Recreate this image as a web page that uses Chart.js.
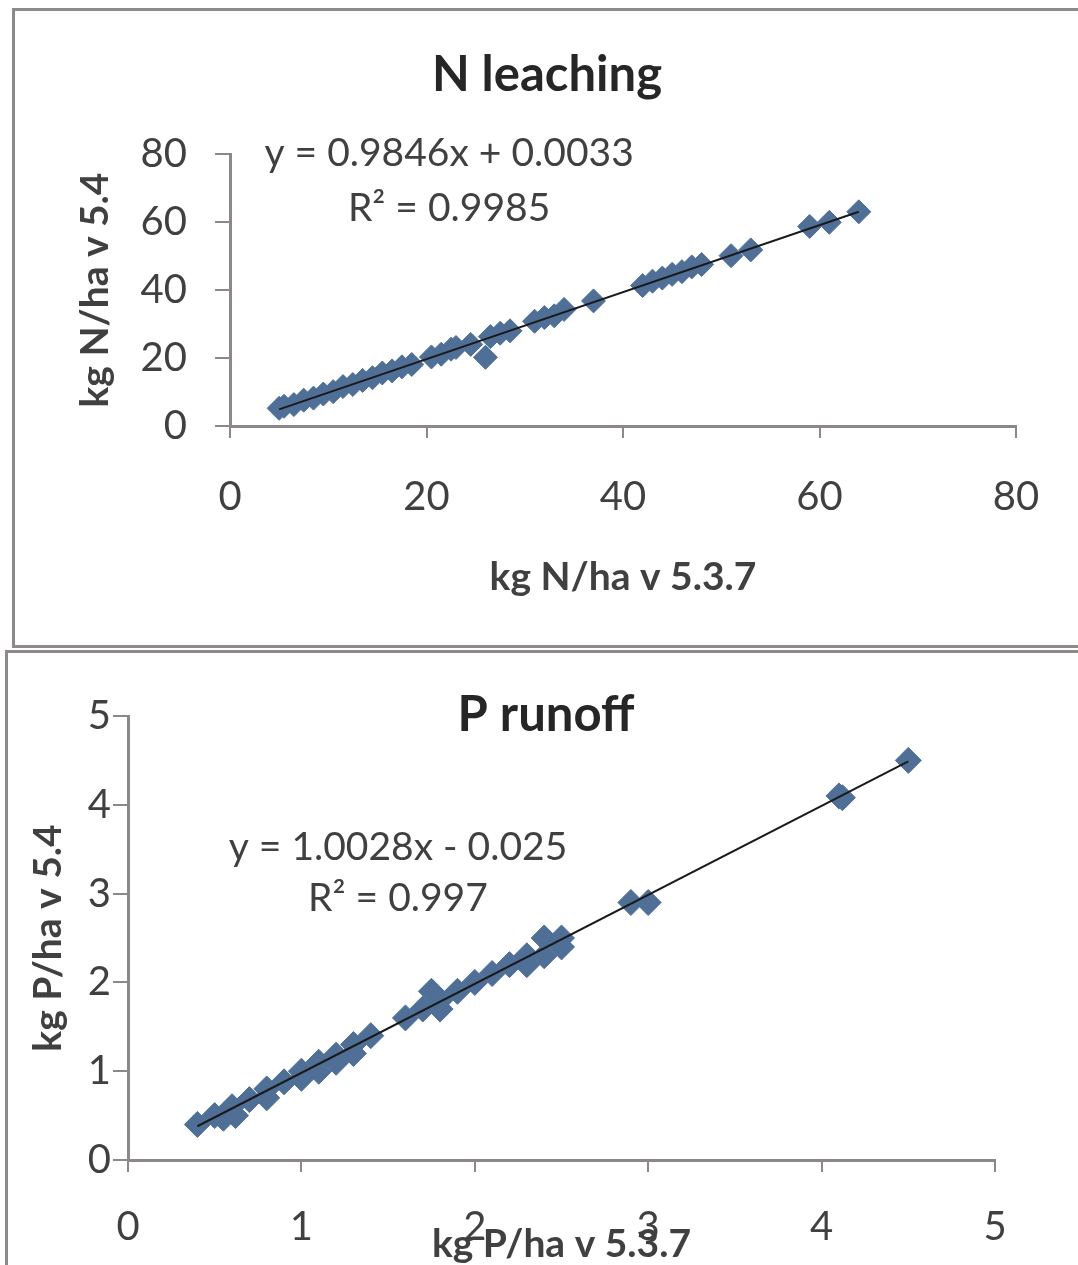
<!DOCTYPE html>
<html>
<head>
<meta charset="utf-8">
<script src="https://cdn.jsdelivr.net/npm/chart.js@4.4.1/dist/chart.umd.min.js"></script>
<style>
body{margin:0;width:1078px;height:1265px;overflow:hidden;position:relative;background:#fff}
.frame{position:absolute;border:3px solid #8f8a8a;background:#fff}
#frameN{left:12px;top:8px;width:1100px;height:634px}
#frameP{left:5px;top:650px;width:1100px;height:700px}
canvas{position:absolute}
#chartN{left:14px;top:10px}
#chartP{left:7px;top:651px}
</style>
</head>
<body>
<div class="frame" id="frameN"></div>
<div class="frame" id="frameP"></div>
<canvas id="chartN" width="1064" height="638"></canvas>
<canvas id="chartP" width="1071" height="640"></canvas>
<script>
// N leaching: v 5.3.7 (x) against v 5.4 (y), kg N/ha
let nX = [5, 5.5, 6.5, 7.5, 8.5, 9.5, 10.5, 11.5, 12.5, 13.5, 14.5, 15.5, 16.5, 17.5, 18.5, 20.5, 21.5, 22.5, 23, 24.5,
  26, 26.5, 27.5, 28.5, 31, 32, 33, 34, 37, 42, 43, 44, 45, 46, 47, 48, 51, 53, 59, 61, 64]
let nY = [5.2, 5.8, 6.3, 7.6, 8.2, 9.4, 10.1, 11.6, 12.2, 13.4, 14.2, 15.6, 16.2, 17.4, 18.1, 20.3, 21.1, 22.6, 23.1, 24.0,
  20.2, 26.3, 27.3, 28.0, 30.8, 31.9, 32.4, 34.3, 36.8, 41.3, 42.6, 43.5, 44.6, 45.4, 46.8, 47.5, 50.1, 51.8, 58.7, 59.9, 63.0]
let nTrendX = [5, 64]
let nTrendY = [4.9, 63.0]
let nTicks = [0, 20, 40, 60, 80]

// P runoff: v 5.3.7 (x) against v 5.4 (y), kg P/ha
let pX = [0.4, 0.5, 0.55, 0.6, 0.62, 0.7, 0.8, 0.8, 0.9, 1.0, 1.0, 1.1, 1.1, 1.2, 1.2, 1.3, 1.3, 1.4, 1.6, 1.7,
  1.75, 1.8, 1.8, 1.9, 2.0, 2.1, 2.2, 2.3, 2.3, 2.4, 2.4, 2.5, 2.5, 2.9, 3.0, 4.1, 4.12, 4.5]
let pY = [0.4, 0.5, 0.47, 0.6, 0.5, 0.68, 0.8, 0.7, 0.88, 1.0, 0.92, 1.1, 1.0, 1.18, 1.1, 1.3, 1.2, 1.4, 1.6, 1.7,
  1.9, 1.8, 1.7, 1.9, 2.0, 2.1, 2.2, 2.3, 2.2, 2.5, 2.3, 2.5, 2.4, 2.9, 2.9, 4.1, 4.08, 4.5]
let pTrendX = [0.4, 4.5]
let pTrendY = [0.38, 4.49]
let pTicks = [0, 1, 2, 3, 4, 5]

let markerColor = '#4f6f97'
let axisColor = '#8c8888'
let textColor = '#404040'

function pairs(xs, ys){
	return xs.map((x, i) => ({x: x, y: ys[i]}))
}

// Excel style heading and trendline equation
const labelPlugin = {
	id: 'labels',
	afterDraw(chart, args, opts){
		let ctx = chart.ctx
		ctx.save()
		ctx.textAlign = 'center'
		ctx.textBaseline = 'middle'
		ctx.fillStyle = '#262626'
		ctx.font = 'bold 49px Lato'
		ctx.fillText(opts.heading, opts.headingX, opts.headingY)
		ctx.fillStyle = textColor
		ctx.font = '39px Lato'
		opts.lines.forEach(l => {
			ctx.fillText(l.text, chart.scales.x.getPixelForValue(l.x), chart.scales.y.getPixelForValue(l.y))
		})
		ctx.restore()
	}
}

function axis(o){
	return {
		type: 'linear', min: o.ticks[0], max: o.ticks[o.ticks.length - 1],
		afterBuildTicks: s => { s.ticks = o.ticks.map(v => ({value: v})) },
		ticks: {padding: o.pad, color: textColor, font: {family: 'Lato', size: 40}},
		grid: {drawOnChartArea: false, drawTicks: true, tickLength: o.tick, color: axisColor, lineWidth: 2},
		border: {color: axisColor, width: 3},
		title: {display: true, text: o.title, color: textColor,
			font: {family: 'Lato', size: 39, weight: 'bold'}, padding: o.titlePad},
		afterFit: o.fit
	}
}

function scatter(id, d){
	new Chart(document.getElementById(id), {
		type: 'scatter',
		data: {
			datasets: [{
				type: 'line',
				data: pairs(d.tx, d.ty),
				borderColor: '#1a1a1a',
				borderWidth: 2,
				pointRadius: 0,
				fill: false
			}, {
				data: pairs(d.xs, d.ys),
				pointStyle: 'rectRot',
				pointRadius: d.radius,
				backgroundColor: markerColor,
				borderColor: markerColor,
				borderWidth: 1
			}]
		},
		options: {
			responsive: false,
			animation: false,
			events: [],
			layout: {padding: d.padding},
			plugins: {legend: {display: false}, tooltip: {enabled: false}, labels: d.labels},
			scales: {x: d.x, y: d.y}
		},
		plugins: [labelPlugin]
	})
}

scatter('chartN', {
	xs: nX, ys: nY, tx: nTrendX, ty: nTrendY, radius: 12,
	padding: {left: 40, top: 144, right: 62, bottom: 40},
	x: axis({ticks: nTicks, pad: 35, tick: 12, title: 'kg N/ha v 5.3.7', titlePad: {top: 0, bottom: 7},
		fit: s => { s.height = 182 }}),
	y: axis({ticks: nTicks, pad: 28, tick: 15, title: 'kg N/ha v 5.4', titlePad: {top: 18, bottom: 0},
		fit: s => { s.width = 176 }}),
	labels: {heading: 'N leaching', headingX: 533, headingY: 65, lines: [
		{text: 'y = 0.9846x + 0.0033', x: 22.3, y: 80.3},
		{text: 'R² = 0.9985', x: 22.3, y: 64.1}
	]}
})

scatter('chartP', {
	xs: pX, ys: pY, tx: pTrendX, ty: pTrendY, radius: 13,
	padding: {left: 15, top: 65, right: 83, bottom: 0},
	x: axis({ticks: pTicks, pad: 31, tick: 12, title: 'kg P/ha v 5.3.7', titlePad: {top: 0, bottom: 23},
		fit: s => { s.height = 131 }}),
	y: axis({ticks: pTicks, pad: 2, tick: 15, title: 'kg P/ha v 5.4', titlePad: {top: 3, bottom: 0},
		fit: s => { s.width = 106 }}),
	labels: {heading: 'P runoff', headingX: 539, headingY: 64, lines: [
		{text: 'y = 1.0028x - 0.025', x: 1.557, y: 3.525},
		{text: 'R² = 0.997', x: 1.557, y: 2.95}
	]}
})
</script>
</body>
</html>
